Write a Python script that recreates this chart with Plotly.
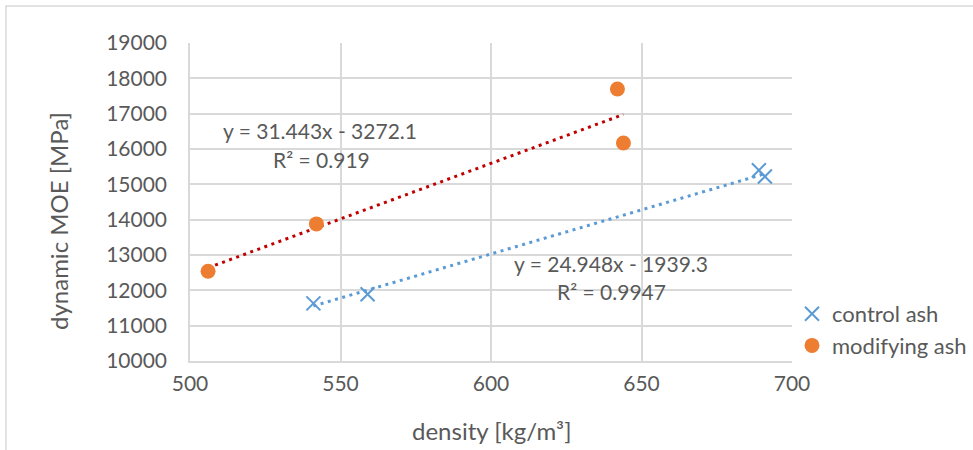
import plotly.graph_objects as go

# data
control_density = [541, 559, 689, 691]
control_moe = [11630, 11890, 15400, 15220]
modif_density = [506, 542, 642, 644]
modif_moe = [12540, 13880, 17700, 16170]
control_fit = (24.948, -1939.3)
modif_fit = (31.443, -3272.1)
control_label = "control ash"
modif_label = "modifying ash"
eq_control = ["y = 24.948x - 1939.3", "R² = 0.9947"]
eq_modif = ["y = 31.443x - 3272.1", "R² = 0.919"]
x_title = "density [kg/m³]"
y_title = "dynamic MOE [MPa]"

W, H = 973, 450
L, R, T, B = 190, 181, 43, 89
FONT = "Lato"
TXT = "#595959"
GRID = "#D9D9D9"

def fit_line(xs, coef):
    x0, x1 = min(xs), max(xs)
    return [x0, x1], [coef[0] * x0 + coef[1], coef[0] * x1 + coef[1]]

fig = go.Figure()

fx, fy = fit_line(modif_density, modif_fit)
fig.add_trace(go.Scatter(x=fx, y=fy, mode="lines", showlegend=False,
                         line=dict(color="#C00000", width=3, dash="3px,4.5px"), hoverinfo="skip"))
fx, fy = fit_line(control_density, control_fit)
fig.add_trace(go.Scatter(x=fx, y=fy, mode="lines", showlegend=False,
                         line=dict(color="#5B9BD5", width=3, dash="3px,4.5px"), hoverinfo="skip"))

fig.add_trace(go.Scatter(x=control_density, y=control_moe, mode="markers", name=control_label,
                         marker=dict(symbol="x-thin-open", size=14, color="#5B9BD5",
                                     line=dict(color="#5B9BD5", width=2))))
fig.add_trace(go.Scatter(x=modif_density, y=modif_moe, mode="markers", name=modif_label,
                         marker=dict(symbol="circle", size=15, color="#ED7D31",
                                     line=dict(width=0))))

pw = W - L - R
ph = H - T - B
def px2paper_x(px):
    return (px - L) / pw
def px2paper_y(py):
    return (H - B - py) / ph

annots = []
for txt, (cx, cy) in zip(eq_modif, [(320, 130), (321, 159)]):
    annots.append(dict(text=txt, x=px2paper_x(cx), y=px2paper_y(cy), xref="paper", yref="paper",
                       showarrow=False, xanchor="center", yanchor="middle",
                       font=dict(family=FONT, size=21, color=TXT)))
for txt, (cx, cy) in zip(eq_control, [(611, 263), (611, 291)]):
    annots.append(dict(text=txt, x=px2paper_x(cx), y=px2paper_y(cy), xref="paper", yref="paper",
                       showarrow=False, xanchor="center", yanchor="middle",
                       font=dict(family=FONT, size=21, color=TXT)))
# axis titles
annots.append(dict(text=y_title, x=px2paper_x(58), y=px2paper_y(221), xref="paper", yref="paper",
                   showarrow=False, xanchor="center", yanchor="middle", textangle=-90,
                   font=dict(family=FONT, size=24, color=TXT)))
annots.append(dict(text=x_title, x=px2paper_x(491), y=px2paper_y(430), xref="paper", yref="paper",
                   showarrow=False, xanchor="center", yanchor="middle",
                   font=dict(family=FONT, size=24, color=TXT)))

fig.update_layout(
    width=W, height=H,
    margin=dict(l=L, r=R, t=T, b=B, autoexpand=False),
    paper_bgcolor="white", plot_bgcolor="white",
    font=dict(family=FONT, size=21, color=TXT),
    annotations=annots,
    legend=dict(x=px2paper_x(792), y=px2paper_y(293), xanchor="left", yanchor="top",
                font=dict(family=FONT, size=22, color=TXT), itemwidth=30,
                tracegroupgap=0, bgcolor="rgba(0,0,0,0)"),
    shapes=[dict(type="rect", xref="paper", yref="paper",
                 x0=px2paper_x(6), x1=px2paper_x(W + 20),
                 y0=px2paper_y(H + 20), y1=px2paper_y(6),
                 line=dict(color=GRID, width=1.5), layer="below")],
)
fig.update_xaxes(range=[500, 700], dtick=50, tick0=500, showgrid=True, gridcolor=GRID, gridwidth=1.5,
                 showline=True, linecolor=GRID, linewidth=1.5, mirror=False, zeroline=False,
                 ticks="", tickfont=dict(size=21, color=TXT), ticklabelstandoff=3)
fig.update_yaxes(range=[10000, 19000], dtick=1000, tickformat="d", showgrid=True, gridcolor=GRID,
                 gridwidth=1.5, showline=True, linecolor=GRID, linewidth=1.5, zeroline=False,
                 ticks="", tickfont=dict(size=21, color=TXT), ticklabelstandoff=17)

fig.write_html("out.html", config={"displayModeBar": False},
               post_script="document.body.style.margin='0px';")
